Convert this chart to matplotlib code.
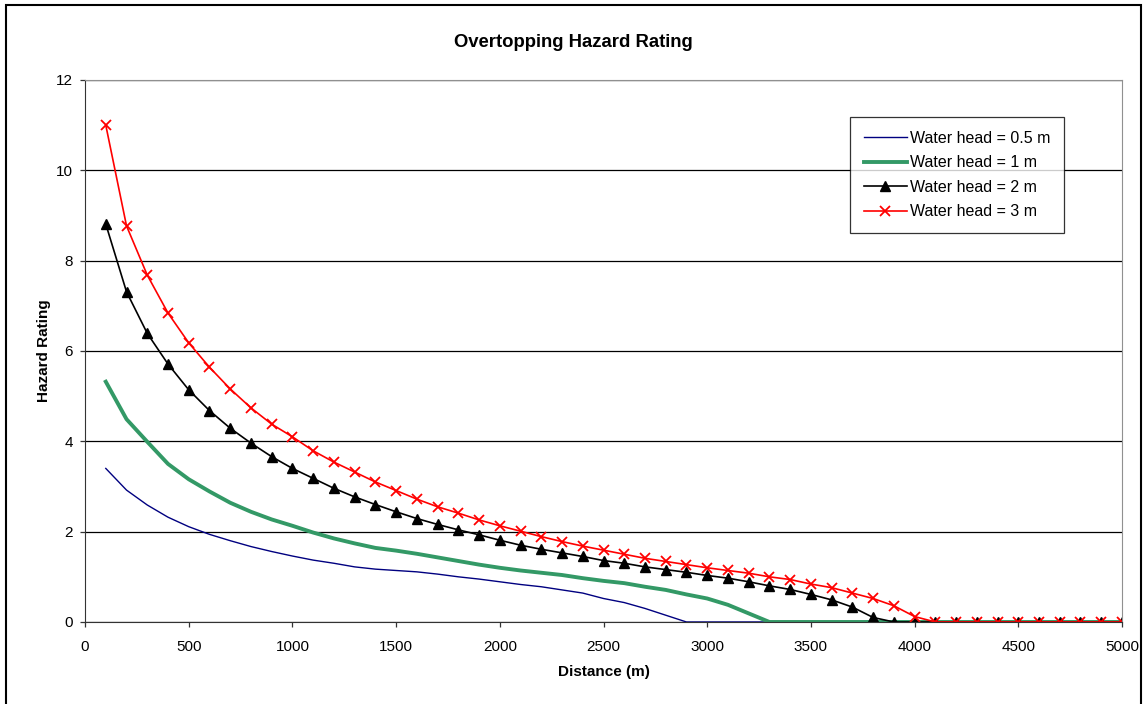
import numpy as np
import matplotlib.pyplot as plt
from matplotlib.patches import Rectangle

plt.rcParams['font.family'] = ['Liberation Sans', 'DejaVu Sans']

# distance along the flood path (m)
distance = np.arange(100, 5001, 100)

# hazard rating for each water head
head_05 = [3.40, 2.92, 2.59, 2.32, 2.11, 1.94, 1.80, 1.67, 1.56, 1.46,
           1.37, 1.30, 1.22, 1.17, 1.14, 1.11, 1.06, 1.00, 0.95, 0.89,
           0.83, 0.78, 0.71, 0.64, 0.52, 0.43, 0.30, 0.15, 0.00, 0.00,
           0.00, 0.00, 0.00, 0.00, 0.00, 0.00, 0.00, 0.00, 0.00, 0.00,
           0.00, 0.00, 0.00, 0.00, 0.00, 0.00, 0.00, 0.00, 0.00, 0.00]
head_1 = [5.32, 4.49, 3.99, 3.50, 3.16, 2.89, 2.64, 2.44, 2.27, 2.13,
          1.98, 1.85, 1.74, 1.64, 1.58, 1.51, 1.43, 1.35, 1.27, 1.20,
          1.14, 1.09, 1.04, 0.97, 0.91, 0.86, 0.78, 0.71, 0.61, 0.52,
          0.38, 0.19, 0.00, 0.00, 0.00, 0.00, 0.00, 0.00, 0.00, 0.00,
          0.00, 0.00, 0.00, 0.00, 0.00, 0.00, 0.00, 0.00, 0.00, 0.00]
head_2 = [8.81, 7.31, 6.39, 5.71, 5.14, 4.68, 4.29, 3.96, 3.66, 3.40,
          3.18, 2.96, 2.77, 2.60, 2.44, 2.29, 2.16, 2.04, 1.93, 1.81,
          1.70, 1.61, 1.53, 1.45, 1.36, 1.30, 1.22, 1.16, 1.10, 1.03,
          0.97, 0.89, 0.80, 0.72, 0.61, 0.49, 0.33, 0.10, 0.00, 0.00,
          0.00, 0.00, 0.00, 0.00, 0.00, 0.00, 0.00, 0.00, 0.00, 0.00]
head_3 = [11.00, 8.77, 7.68, 6.84, 6.18, 5.64, 5.16, 4.74, 4.38, 4.10,
          3.79, 3.54, 3.32, 3.10, 2.91, 2.72, 2.55, 2.41, 2.26, 2.13,
          2.01, 1.89, 1.78, 1.68, 1.59, 1.50, 1.41, 1.34, 1.27, 1.20,
          1.14, 1.08, 1.00, 0.94, 0.84, 0.76, 0.64, 0.52, 0.36, 0.12,
          0.00, 0.00, 0.00, 0.00, 0.00, 0.00, 0.00, 0.00, 0.00, 0.00]

fig = plt.figure(figsize=(11.43, 7.04), dpi=100)
ax = fig.add_axes([0.0744, 0.1165, 0.9072, 0.7699])

ax.plot(distance, head_05, color='#000080', lw=1.0, label='Water head = 0.5 m')
ax.plot(distance, head_1, color='#339966', lw=2.8, label='Water head = 1 m')
ax.plot(distance, head_2, color='black', lw=1.2, marker='^', ms=7,
        label='Water head = 2 m')
ax.plot(distance, head_3, color='#FF0000', lw=1.2, marker='x', ms=7.5,
        mew=1.3, label='Water head = 3 m')

ax.set_xlim(0, 5000)
ax.set_ylim(0, 12)
ax.set_xticks(np.arange(0, 5001, 500))
ax.set_yticks(np.arange(0, 13, 2))
ax.yaxis.grid(True, color='black', lw=0.9)
ax.set_axisbelow(True)
ax.tick_params(labelsize=11, length=3.6, width=0.9, color='#333333')
ax.tick_params(axis='x', pad=9.5)
ax.tick_params(axis='y', pad=5)

for side in ['top', 'right']:
    ax.spines[side].set_color('#909090')
for side in ['left', 'bottom']:
    ax.spines[side].set_color('#333333')

ax.set_xlabel('Distance (m)', fontsize=11, fontweight='bold', labelpad=8)
ax.set_ylabel('Hazard Rating', fontsize=11, fontweight='bold', labelpad=4)
fig.text(0.502, 0.939, 'Overtopping Hazard Rating', ha='center', va='center',
         fontsize=13.3, fontweight='bold')

leg = ax.legend(loc='upper left', bbox_to_anchor=(0.7377, 0.9317), fontsize=11.5,
                frameon=True, fancybox=False, borderpad=0.85, labelspacing=0.6,
                handlelength=2.7, handletextpad=0.2, borderaxespad=0)
leg.get_frame().set_edgecolor('black')
leg.get_frame().set_linewidth(0.9)

# outer chart border
fig.patches.append(Rectangle((0.005, -0.02), 0.993, 1.013, transform=fig.transFigure,
                             fill=False, edgecolor='black', lw=1.5))

fig.savefig('out.png', dpi=100)
